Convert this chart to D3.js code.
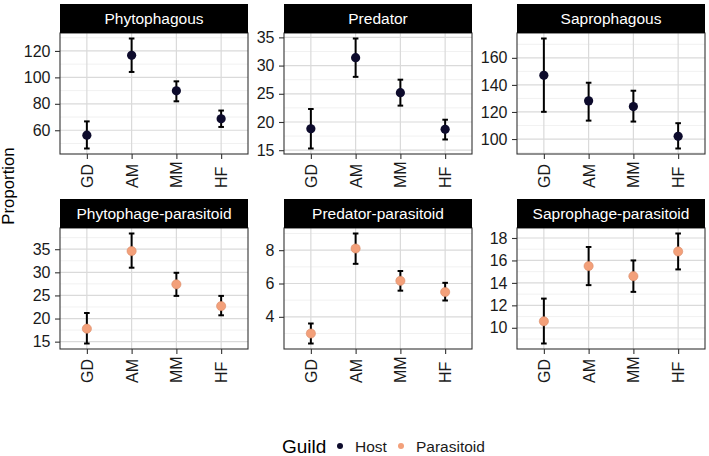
<!DOCTYPE html>
<html>
<head>
<meta charset="utf-8">
<script src="https://cdn.jsdelivr.net/npm/d3@7"></script>
<style>
  body { margin: 0; background: #fff; }
  svg { font-family: "Liberation Sans", Arial, sans-serif; }
</style>
</head>
<body>
<div id="chart"></div>
<script>
////////////////////////////////////////////////////////////////////////
// Data

let sites = ["GD", "AM", "MM", "HF"];
let panelNames = ["Phytophagous", "Predator", "Saprophagous",
                  "Phytophage-parasitoid", "Predator-parasitoid", "Saprophage-parasitoid"];
let panelGuild = ["Host", "Host", "Host", "Parasitoid", "Parasitoid", "Parasitoid"];

let means = [
  [56.3, 116.7, 89.8, 68.7],
  [18.8, 31.4, 25.2, 18.7],
  [147.1, 128.2, 124.0, 102.0],
  [17.8, 34.6, 27.4, 22.7],
  [3.0, 8.1, 6.16, 5.49],
  [10.58, 15.5, 14.6, 16.8]
];
let lower = [
  [46.2, 104.1, 81.9, 62.5],
  [15.3, 28.0, 22.9, 16.9],
  [120.1, 113.6, 112.9, 93.0],
  [14.6, 31.0, 24.9, 20.7],
  [2.4, 7.18, 5.57, 4.98],
  [8.6, 13.8, 13.2, 15.2]
];
let upper = [
  [66.7, 129.4, 97.0, 74.9],
  [22.3, 34.8, 27.5, 20.4],
  [174.3, 141.6, 135.7, 111.7],
  [21.2, 38.4, 29.9, 24.9],
  [3.6, 9.0, 6.75, 6.04],
  [12.6, 17.2, 16.0, 18.4]
];
let yTicks = [
  [60, 80, 100, 120],
  [15, 20, 25, 30, 35],
  [100, 120, 140, 160],
  [15, 20, 25, 30, 35],
  [4, 6, 8],
  [10, 12, 14, 16, 18]
];

let guilds = ["Host", "Parasitoid"];
let guildColor = d3.scaleOrdinal().domain(guilds).range(["#0d0b2c", "#f3a07a"]);

////////////////////////////////////////////////////////////////////////
// Layout

let width = 709, height = 456;
let colX = [60, 284, 517];
let panelW = 188;
let stripTop = [4, 199];
let stripH = 29;
let panelH = 121;
let tickFont = 16;

let svg = d3.select("#chart").append("svg")
  .attr("width", width)
  .attr("height", height);

function minorTicks(ticks, domain) {
  let step = ticks[1] - ticks[0];
  let out = [];
  for (let v = ticks[0] - step / 2; v <= domain[1]; v += step) {
    if (v >= domain[0]) out.push(v);
  }
  return out;
}

panelNames.forEach(function(name, i) {
  let col = i % 3, row = Math.floor(i / 3);
  let x0 = colX[col], top = stripTop[row] + stripH;

  let lo = d3.min(lower[i]), hi = d3.max(upper[i]);
  let pad = (hi - lo) * 0.05;
  let domain = [lo - pad, hi + pad];

  let x = d3.scalePoint().domain(sites).range([0, panelW]).padding(0.6);
  let y = d3.scaleLinear().domain(domain).range([panelH, 0]);

  let g = svg.append("g").attr("transform", "translate(" + x0 + "," + top + ")");

  // strip
  svg.append("rect")
    .attr("x", x0).attr("y", stripTop[row])
    .attr("width", panelW).attr("height", stripH)
    .attr("fill", "#000");
  svg.append("text")
    .attr("x", x0 + panelW / 2).attr("y", stripTop[row] + stripH / 2)
    .attr("text-anchor", "middle")
    .attr("dominant-baseline", "central")
    .attr("fill", "#fff")
    .attr("font-size", 15.5)
    .text(name);

  // grid
  g.selectAll(".minor").data(minorTicks(yTicks[i], domain)).enter().append("line")
    .attr("x1", 0).attr("x2", panelW)
    .attr("y1", d => y(d)).attr("y2", d => y(d))
    .attr("stroke", "#ebebeb").attr("stroke-width", 0.7);
  g.selectAll(".major").data(yTicks[i]).enter().append("line")
    .attr("x1", 0).attr("x2", panelW)
    .attr("y1", d => y(d)).attr("y2", d => y(d))
    .attr("stroke", "#dadada").attr("stroke-width", 1.2);
  g.selectAll(".vmajor").data(sites).enter().append("line")
    .attr("x1", d => x(d)).attr("x2", d => x(d))
    .attr("y1", 0).attr("y2", panelH)
    .attr("stroke", "#dadada").attr("stroke-width", 1.2);

  // y axis
  let yAxis = g.append("g")
    .call(d3.axisLeft(y).tickValues(yTicks[i]).tickSize(5).tickPadding(4.5));
  yAxis.select(".domain").remove();
  yAxis.selectAll("line").attr("stroke", "#333").attr("stroke-width", 1.1);
  yAxis.selectAll("text").attr("font-size", tickFont).attr("fill", "#1a1a1a")
    .attr("font-family", "Liberation Sans, Arial, sans-serif");

  // x axis
  let xAxis = g.append("g").attr("transform", "translate(0," + panelH + ")")
    .call(d3.axisBottom(x).tickSize(5));
  xAxis.select(".domain").remove();
  xAxis.selectAll("line").attr("stroke", "#333").attr("stroke-width", 1.1);
  xAxis.selectAll("text")
    .attr("font-size", tickFont).attr("fill", "#1a1a1a")
    .attr("font-family", "Liberation Sans, Arial, sans-serif")
    .attr("transform", "translate(0,34) rotate(-90)")
    .attr("x", 0).attr("y", 0).attr("dy", null)
    .attr("text-anchor", "start")
    .attr("dominant-baseline", "central");

  // error bars
  let rows = sites.map((s, k) => ({ site: s, m: means[i][k], lo: lower[i][k], hi: upper[i][k] }));
  let eb = g.selectAll(".eb").data(rows).enter().append("g");
  eb.append("line")
    .attr("x1", d => x(d.site)).attr("x2", d => x(d.site))
    .attr("y1", d => y(d.lo)).attr("y2", d => y(d.hi))
    .attr("stroke", "#000").attr("stroke-width", 2);
  eb.append("line")
    .attr("x1", d => x(d.site) - 2.8).attr("x2", d => x(d.site) + 2.8)
    .attr("y1", d => y(d.lo)).attr("y2", d => y(d.lo))
    .attr("stroke", "#000").attr("stroke-width", 2);
  eb.append("line")
    .attr("x1", d => x(d.site) - 2.8).attr("x2", d => x(d.site) + 2.8)
    .attr("y1", d => y(d.hi)).attr("y2", d => y(d.hi))
    .attr("stroke", "#000").attr("stroke-width", 2);

  // points
  g.selectAll(".pt").data(rows).enter().append("circle")
    .attr("cx", d => x(d.site)).attr("cy", d => y(d.m))
    .attr("r", 4.6)
    .attr("fill", guildColor(panelGuild[i]))
    .attr("stroke", panelGuild[i] == "Host" ? "none" : "#d98a66")
    .attr("stroke-width", 0.6);

  // border
  g.append("rect")
    .attr("width", panelW).attr("height", panelH)
    .attr("fill", "none").attr("stroke", "#333").attr("stroke-width", 1.1);
});

// y title
svg.append("text")
  .attr("transform", "translate(14,186) rotate(-90)")
  .attr("text-anchor", "middle")
  .attr("font-size", 16.8)
  .attr("fill", "#000")
  .text("Proportion");

// legend
let legend = svg.append("g");
legend.append("text")
  .attr("x", 282).attr("y", 453)
  .attr("font-size", 19)
  .text("Guild");
let legendX = [340, 401];
let legendItems = legend.selectAll(".li").data(guilds).enter().append("g");
legendItems.append("circle")
  .attr("cx", (d, k) => legendX[k]).attr("cy", 446)
  .attr("r", 3)
  .attr("fill", d => guildColor(d));
legendItems.append("text")
  .attr("x", (d, k) => legendX[k] + 15).attr("y", 451.5)
  .attr("font-size", 15.5)
  .attr("fill", "#1a1a1a")
  .text(d => d);
</script>
</body>
</html>
